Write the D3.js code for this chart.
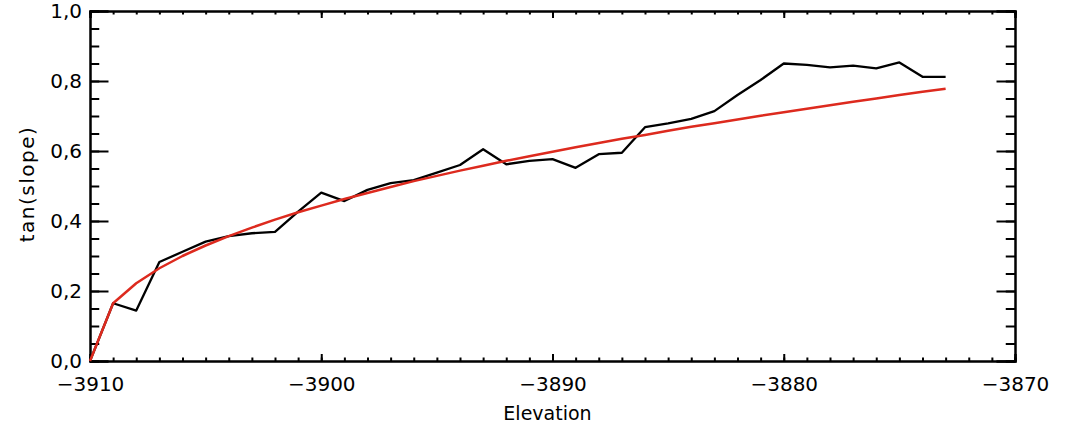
<!DOCTYPE html>
<html>
<head>
<meta charset="utf-8">
<script src="https://cdn.jsdelivr.net/npm/d3@7"></script>
<style>
  body { margin: 0; background: #fff; }
  text { font-family: "DejaVu Sans", sans-serif; fill: #000; }
</style>
</head>
<body>
<svg id="chart" width="1070" height="426"></svg>
<script>
// elevation steps
const elevation = d3.range(-3910, -3872, 1)

// measured tan(slope)
const measured = [
  0.0, 0.165, 0.144, 0.283, 0.312, 0.341, 0.357, 0.365, 0.369, 0.427,
  0.481, 0.457, 0.489, 0.508, 0.517, 0.538, 0.56, 0.605, 0.562, 0.572,
  0.577, 0.552, 0.591, 0.595, 0.668, 0.679, 0.692, 0.714, 0.76, 0.803,
  0.85, 0.846, 0.839, 0.844, 0.836, 0.853, 0.812, 0.812
]

// fitted curve (red)
const fitted = [
  0.0, 0.165, 0.222, 0.265, 0.30, 0.33, 0.357, 0.381, 0.404, 0.425,
  0.444, 0.463, 0.48, 0.497, 0.514, 0.529, 0.544, 0.558, 0.572, 0.585,
  0.598, 0.611, 0.623, 0.635, 0.646, 0.658, 0.669, 0.679, 0.69, 0.701,
  0.711, 0.721, 0.731, 0.741, 0.75, 0.76, 0.769, 0.778
]

const xTicks = [-3910, -3900, -3890, -3880, -3870]
const yTicks = [0, 0.2, 0.4, 0.6, 0.8, 1.0]

const margin = { top: 11, right: 55, bottom: 65, left: 90 }
const width = 1070, height = 426

const svg = d3.select('#chart')

const x = d3.scaleLinear()
  .domain([-3910, -3870])
  .range([margin.left, width - margin.right])

const y = d3.scaleLinear()
  .domain([0, 1])
  .range([height - margin.bottom, margin.top])

const pw = x.range()[1] - x.range()[0]
const ph = y.range()[0] - y.range()[1]
const xLen = 0.02 * ph   // IDL style tick length
const yLen = 0.02 * pw

const fmt = d => d3.format('.1f')(d).replace('.', ',')

// axes (IDL look: ticks inside, on all four sides)
function xAxis(g, top) {
  const pos = top ? y.range()[1] : y.range()[0]
  g.append('g')
    .attr('transform', `translate(0, ${pos})`)
    .call(
      (top ? d3.axisTop(x) : d3.axisBottom(x))
        .tickValues(d3.range(-3910, -3869, 1))
        .tickSize(-xLen / 2)
        .tickFormat('')
    )
  const major = g.append('g')
    .attr('transform', `translate(0, ${pos})`)
    .call(
      (top ? d3.axisTop(x) : d3.axisBottom(x))
        .tickValues(xTicks)
        .tickSize(-xLen)
        .tickPadding(16)
        .tickFormat(top ? '' : d => '\u2212' + Math.abs(d))
    )
  major.selectAll('text').style('font-size', '20px')
}

function yAxis(g, right) {
  const pos = right ? x.range()[1] : x.range()[0]
  g.append('g')
    .attr('transform', `translate(${pos}, 0)`)
    .call(
      (right ? d3.axisRight(y) : d3.axisLeft(y))
        .tickValues(d3.range(0, 1.0001, 0.05))
        .tickSize(-yLen / 2)
        .tickFormat('')
    )
  const major = g.append('g')
    .attr('transform', `translate(${pos}, 0)`)
    .call(
      (right ? d3.axisRight(y) : d3.axisLeft(y))
        .tickValues(yTicks)
        .tickSize(-yLen)
        .tickPadding(8)
        .tickFormat(right ? '' : fmt)
    )
  major.selectAll('text').style('font-size', '20px')
}

const axes = svg.append('g')
axes.call(xAxis, false).call(xAxis, true).call(yAxis, false).call(yAxis, true)
axes.selectAll('.domain').attr('stroke', '#000').attr('stroke-width', 2)
axes.selectAll('.tick line').attr('stroke', '#000').attr('stroke-width', 2)
axes.selectAll('.tick text').attr('fill', '#000')

// lines
const line = d3.line()
  .x((d, i) => x(elevation[i]))
  .y(d => y(d))

svg.append('path')
  .datum(measured)
  .attr('fill', 'none')
  .attr('stroke', '#000')
  .attr('stroke-width', 2.3)
  .attr('stroke-linejoin', 'round')
  .attr('d', line)

svg.append('path')
  .datum(fitted)
  .attr('fill', 'none')
  .attr('stroke', '#dd2a1e')
  .attr('stroke-width', 2.5)
  .attr('stroke-linejoin', 'round')
  .attr('d', line)

// labels
svg.append('text')
  .attr('x', (x.range()[0] + x.range()[1]) / 2 - 5)
  .attr('y', 420)
  .attr('text-anchor', 'middle')
  .style('font-size', '19px')
  .text('Elevation')

svg.append('text')
  .attr('transform', `translate(34, ${(y.range()[0] + y.range()[1]) / 2 - 2}) rotate(-90)`)
  .attr('text-anchor', 'middle')
  .style('font-size', '20px')
  .style('letter-spacing', '1.5px')
  .text('tan(slope)')
</script>
</body>
</html>
